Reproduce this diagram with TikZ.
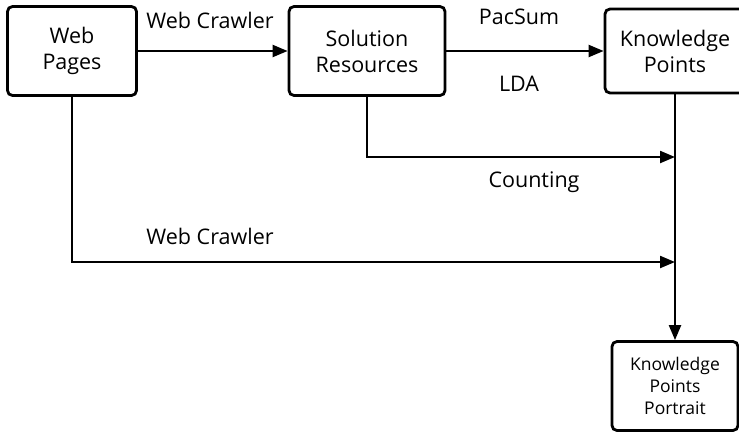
\documentclass[tikz,border=0pt]{standalone}
\usepackage{fontspec}
\setsansfont{Open Sans}
\usetikzlibrary{positioning,arrows.meta}
\begin{document}
\begin{tikzpicture}[
    x=1pt, y=-1pt,
    font=\sffamily\fontsize{21.5}{26}\selectfont,
    block/.style={draw, line width=2.8pt, rounded corners=5pt, align=center, inner sep=0pt},
    flow/.style={line width=2.2pt, -{Triangle[length=15pt,width=12pt]}}
]
    \useasboundingbox (0,0) rectangle (739,434);

    % Boxes
    \node[block, minimum width=129pt, minimum height=89pt] (web) at (72,51) {Web\\Pages};
    \node[block, minimum width=156pt, minimum height=89pt] (sol) at (367,51) {Solution\\Resources};
    \node[block, minimum width=140pt, minimum height=84pt] (kp) at (675,51) {Knowledge\\Points};
    \node[block, minimum width=126pt, minimum height=89pt,
          font=\sffamily\fontsize{17.5}{22}\selectfont] (portrait) at (675,386) {Knowledge\\Points\\Portrait};

    % Junctions on the trunk
    \coordinate (cnt) at (675,157);
    \coordinate (crw) at (675,262);

    % Connectors
    \draw[flow] (web) -- (sol);
    \draw[flow] (sol) -- (kp);
    \draw[flow] (sol.south) |- (cnt);
    \draw[flow] (web.south) |- (crw);
    \draw[flow] (kp.south) -- (portrait.north);

    % Labels
    \node (crawltop) at (210,20) {Web Crawler};
    \node (pacsum) at (519,17) {PacSum};
    \node (lda) at (519,84) {LDA};
    \node (counting) at (534,182) {Counting};
    \node (crawlbot) at (210,236) {Web Crawler};
\end{tikzpicture}
\end{document}
